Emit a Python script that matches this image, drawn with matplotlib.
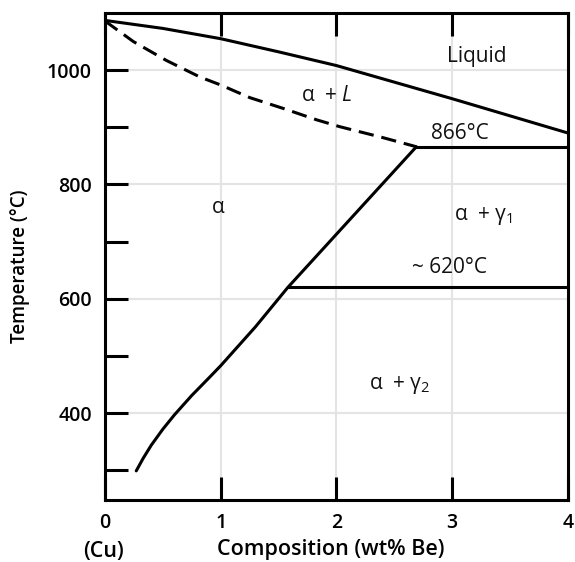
import matplotlib
matplotlib.use("Agg")
import matplotlib.pyplot as plt

plt.rcParams['font.family'] = ['Open Sans', 'DejaVu Sans']
plt.rcParams['mathtext.fontset'] = 'custom'
plt.rcParams['mathtext.rm'] = 'Open Sans'
plt.rcParams['mathtext.it'] = 'Open Sans:italic'

# Liquidus (solid)
liq_x = [0.0, 0.5, 1.0, 1.5, 2.0, 2.5, 3.0, 3.5, 4.0]
liq_t = [1087, 1073, 1055, 1032, 1008, 979, 950, 920, 890]
# Solidus (dashed)
sol_x = [0.0, 0.245, 0.53, 0.82, 1.0, 1.25, 1.54, 1.83, 2.03, 2.4, 2.69]
sol_t = [1086, 1050, 1017, 988, 974, 952, 933, 913, 901, 882, 866]
# Solvus
solv_x = [0.27, 0.33, 0.40, 0.50, 0.60, 0.75, 0.90, 1.0, 1.3, 1.58, 2.69]
solv_t = [299, 321, 344, 372, 397, 431, 462, 483, 551, 620, 866]
# Horizontal isotherms
eut_x = [2.69, 4.0]
eut_t = [866, 866]
eud_x = [1.58, 4.0]
eud_t = [620, 620]

labels = [
    (3.21, 1023, "Liquid"),
    (1.92, 956, r"α  + $\it{L}$"),
    (3.07, 889, "866°C"),
    (0.975, 760, "α"),
    (3.27, 745, r"α  + γ$_1$"),
    (2.98, 654, "~ 620°C"),
    (2.55, 449, r"α  + γ$_2$"),
]

fig = plt.figure(figsize=(5.75, 5.62), dpi=100)
ax = fig.add_axes([0.1826, 0.1103, 0.8052, 0.8666])

ax.set_xlim(0, 4)
ax.set_ylim(248, 1100)

for x in [1, 2, 3]:
    ax.axvline(x, color='#e4e4e4', lw=1.5, zorder=0)
for y in [400, 600, 800, 1000]:
    ax.axhline(y, color='#e4e4e4', lw=1.5, zorder=0)

lw = 2.2
ax.plot(liq_x, liq_t, color='black', lw=lw, solid_capstyle='round')
ax.plot(sol_x, sol_t, color='black', lw=lw, ls=(0, (5, 2.6)))
ax.plot(solv_x, solv_t, color='black', lw=lw, solid_capstyle='round',
        solid_joinstyle='round')
ax.plot(eut_x, eut_t, color='black', lw=lw)
ax.plot(eud_x, eud_t, color='black', lw=lw)

for x, y, s in labels:
    ax.text(x, y, s, fontsize=15, ha='center', va='center', color='#111111')

for sp in ax.spines.values():
    sp.set_linewidth(2.2)

ax.set_xticks([0, 1, 2, 3, 4])
ax.set_xticklabels(['0', '1', '2', '3', '4'])
ax.set_yticks([300, 400, 500, 600, 700, 800, 900, 1000])
ax.set_yticklabels(['', '400', '', '600', '', '800', '', '1000'])
ax.tick_params(axis='x', direction='in', length=16.5, width=2.2, top=True,
               labelsize=14, pad=9.5)
ax.tick_params(axis='y', direction='in', length=16.5, width=2.2,
               labelsize=14, pad=9.5)
for t in ax.get_xticklabels() + ax.get_yticklabels():
    t.set_fontweight('semibold')

fig.text(20 / 575, 1 - 266 / 562, "Temperature (°C)", rotation=90,
         ha='center', va='center', fontsize=13.5, fontweight='semibold')
fig.text(331 / 575, 1 - 550 / 562, "Composition (wt% Be)",
         ha='center', va='center', fontsize=15.5, fontweight='semibold')
fig.text(103 / 575, 1 - 551 / 562, "(Cu)", ha='center', va='center',
         fontsize=15.5, fontweight='semibold')

fig.savefig("out.png", dpi=100)
